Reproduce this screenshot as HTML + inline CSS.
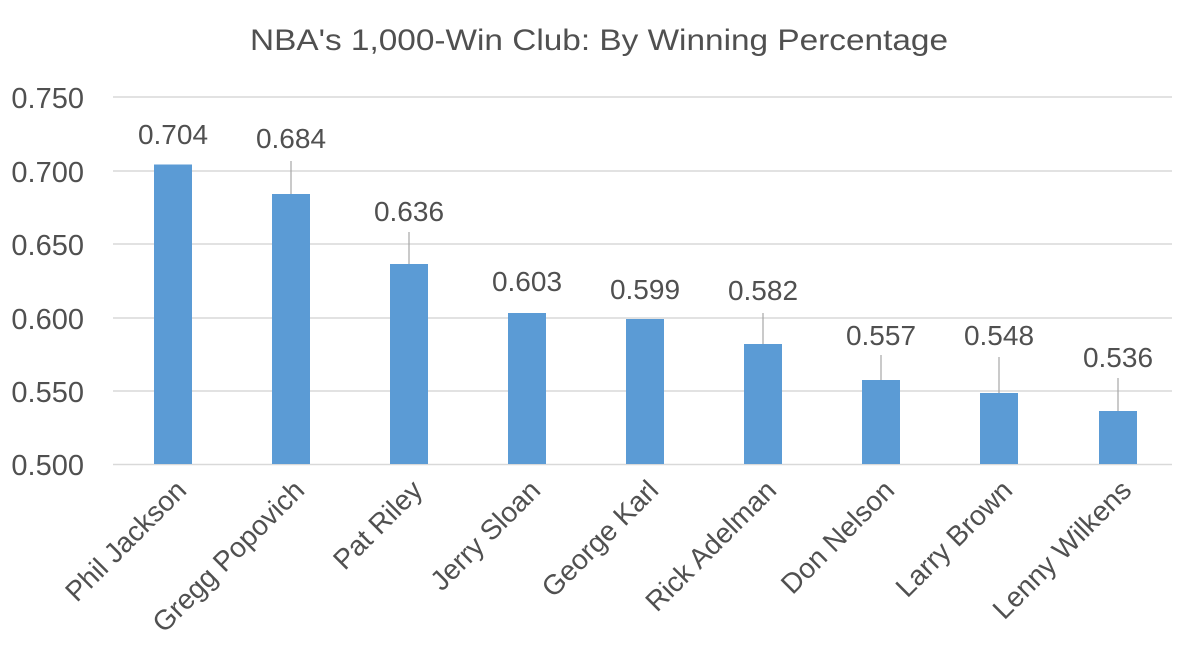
<!DOCTYPE html>
<html><head><style>body{margin:0;background:#fff}svg{display:block}</style></head><body>
<svg width="1200" height="664" xmlns="http://www.w3.org/2000/svg" font-family="Liberation Sans, sans-serif" fill="#505050">
<rect width="1200" height="664" fill="#fff"/>
<text x="599" y="50" font-size="30" text-anchor="middle" textLength="698" lengthAdjust="spacingAndGlyphs">NBA's 1,000-Win Club: By Winning Percentage</text>
<g stroke="#d9d9d9" stroke-width="1.5">
<line x1="113" x2="1172" y1="97" y2="97"/><line x1="113" x2="1172" y1="171" y2="171"/>
<line x1="113" x2="1172" y1="244" y2="244"/><line x1="113" x2="1172" y1="318" y2="318"/>
<line x1="113" x2="1172" y1="391" y2="391"/><line x1="113" x2="1172" y1="464.5" y2="464.5"/>
</g>
<g font-size="29" text-anchor="end">
<text x="84" y="108">0.750</text><text x="84" y="182">0.700</text><text x="84" y="255">0.650</text>
<text x="84" y="329">0.600</text><text x="84" y="402">0.550</text><text x="84" y="475">0.500</text>
</g>
<g fill="#5b9bd5">
<rect x="154" y="164.5" width="38" height="299.5"/>
<rect x="272" y="194" width="38" height="270"/>
<rect x="390" y="264" width="38" height="200"/>
<rect x="508" y="313" width="38" height="151"/>
<rect x="626" y="319" width="38" height="145"/>
<rect x="744" y="344" width="38" height="120"/>
<rect x="862" y="380" width="38" height="84"/>
<rect x="980" y="393" width="38" height="71"/>
<rect x="1099" y="411" width="38" height="53"/>
</g>
<g stroke="#a6a6a6" stroke-width="1.2">
<line x1="291" x2="291" y1="161" y2="194"/>
<line x1="409" x2="409" y1="232" y2="264"/>
<line x1="763" x2="763" y1="313" y2="344"/>
<line x1="881" x2="881" y1="355" y2="380"/>
<line x1="999" x2="999" y1="357" y2="393"/>
<line x1="1118" x2="1118" y1="378" y2="411"/>
</g>
<g font-size="28" text-anchor="middle">
<text x="173" y="144">0.704</text>
<text x="291" y="148">0.684</text>
<text x="409" y="221">0.636</text>
<text x="527" y="291">0.603</text>
<text x="645" y="299">0.599</text>
<text x="763" y="300">0.582</text>
<text x="881" y="345">0.557</text>
<text x="999" y="345">0.548</text>
<text x="1118" y="367">0.536</text>
</g>
<g font-size="28" text-anchor="end">
<text transform="translate(188,492) rotate(-45)">Phil Jackson</text>
<text transform="translate(306,492) rotate(-45)">Gregg Popovich</text>
<text transform="translate(424,492) rotate(-45)">Pat Riley</text>
<text transform="translate(542,492) rotate(-45)">Jerry Sloan</text>
<text transform="translate(660,492) rotate(-45)">George Karl</text>
<text transform="translate(778,492) rotate(-45)">Rick Adelman</text>
<text transform="translate(896,492) rotate(-45)">Don Nelson</text>
<text transform="translate(1014,492) rotate(-45)">Larry Brown</text>
<text transform="translate(1133,492) rotate(-45)">Lenny Wilkens</text>
</g>
</svg>
</body></html>
